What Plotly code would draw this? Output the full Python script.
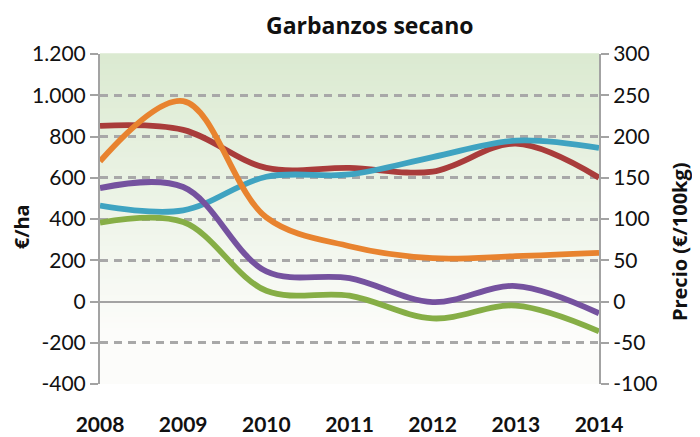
import plotly.graph_objects as go

years = [2008, 2009, 2010, 2011, 2012, 2013, 2014]
rojo = [852, 832, 648, 648, 630, 765, 600]
azul = [465, 442, 605, 616, 700, 780, 745]
morado = [550, 555, 146, 113, -3, 75, -57]
verde = [382, 385, 52, 28, -82, -20, -145]
precio_naranja = [170, 243, 102, 67, 52.5, 55, 59]  # €/100kg on right axis

left_vals = [-400, -200, 0, 200, 400, 600, 800, 1000, 1200]
left_text = ["-400", "-200", "0", "200", "400", "600", "800", "1.000", "1.200"]
right_vals = [-100, -50, 0, 50, 100, 150, 200, 250, 300]
right_text = ["-100", "-50", "0", "50", "100", "150", "200", "250", "300"]
year_text = [str(y) for y in years]

FONT = "Lato"

fig = go.Figure()

def add(yvals, color, axis="y"):
    fig.add_trace(go.Scatter(
        x=years, y=yvals, mode="lines", yaxis=axis,
        line=dict(color=color, width=5.8, shape="spline", smoothing=1.0),
        showlegend=False, hoverinfo="skip"))

add(rojo, "#A93C3B")
add(precio_naranja, "#E8832F", "y2")
add(azul, "#3FA3C1")
add(morado, "#75529F")
add(verde, "#86AE46")

# gradient background bands
n = 60
top = (219, 234, 209)
bot = (252, 252, 250)
shapes = []
for i in range(n):
    t = min(1.0, i / (n - 1) / 0.85)
    c = tuple(round(top[k] + (bot[k] - top[k]) * t) for k in range(3))
    y1 = 1 - i / n
    y0 = 1 - (i + 1) / n
    shapes.append(dict(type="rect", xref="paper", yref="paper", x0=0, x1=1,
                       y0=y0, y1=y1 + 0.002, line=dict(width=0),
                       fillcolor="rgb(%d,%d,%d)" % c, layer="below"))

GRAY = "#A3A3A3"
fig.update_layout(
    width=692, height=429,
    margin=dict(l=92, r=101, t=46, b=53, autoexpand=False),
    paper_bgcolor="white",
    plot_bgcolor="white",
    shapes=shapes,
    font=dict(family=FONT, color="#111111"),
    xaxis=dict(range=[2008, 2014], tickvals=years, ticktext=year_text,
               tickfont=dict(size=21, weight="bold", family=FONT),
               showgrid=False, zeroline=False, showline=False, ticks="",
               ticklabelstandoff=26, automargin=False),
    yaxis=dict(range=[-400, 1200], tickvals=left_vals, ticktext=left_text,
               tickfont=dict(size=21, family=FONT), automargin=False,
               showgrid=True, gridcolor="#A8A8A8", griddash="8px,6px", gridwidth=2.5,
               zeroline=True, zerolinecolor=GRAY, zerolinewidth=2,
               showline=True, linecolor=GRAY, linewidth=2,
               ticks="outside", ticklen=8, tickcolor=GRAY, tickwidth=2),
    yaxis2=dict(range=[-100, 300], tickvals=right_vals, ticktext=right_text,
                overlaying="y", side="right", automargin=False,
                tickfont=dict(size=21, family=FONT),
                showgrid=False, zeroline=False,
                showline=True, linecolor=GRAY, linewidth=2,
                ticks="outside", ticklen=8, tickcolor=GRAY, tickwidth=2),
    annotations=[
        dict(text="<b>Garbanzos secano</b>", xref="paper", yref="paper",
             x=0.541, y=1.0, yshift=29, xanchor="center", yanchor="middle",
             showarrow=False,
             font=dict(size=23, family="Open Sans", color="#111111")),
        dict(text="<b>€/ha</b>", xref="paper", yref="paper", x=0, xshift=-79,
             y=0.475, xanchor="center", yanchor="middle", textangle=-90, showarrow=False,
             font=dict(size=20, family="Open Sans", color="#111111")),
        dict(text="<b>Precio (€/100kg)</b>", xref="paper", yref="paper", x=1, xshift=80,
             y=0.43, xanchor="center", yanchor="middle", textangle=-90, showarrow=False,
             font=dict(size=20, family="Open Sans", color="#111111")),
    ],
)

fig.write_html("out.html")
